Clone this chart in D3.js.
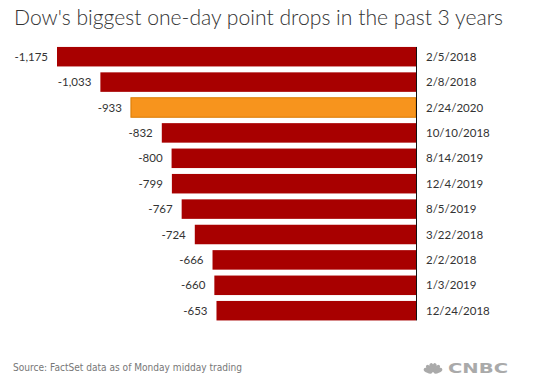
<!DOCTYPE html>
<html>
<head>
<meta charset="utf-8">
<script src="https://cdn.jsdelivr.net/npm/d3@7"></script>
<style>
  body { margin: 0; background: #fff; }
  svg { display: block; }
</style>
</head>
<body>
<svg id="chart" width="546" height="382"></svg>
<script>
const dates = ["2/5/2018","2/8/2018","2/24/2020","10/10/2018","8/14/2019","12/4/2019","8/5/2019","3/22/2018","2/2/2018","1/3/2019","12/24/2018"];
const drops = [-1175,-1033,-933,-832,-800,-799,-767,-724,-666,-660,-653];
const highlightDate = "2/24/2020";
const titleText = "Dow's biggest one-day point drops in the past 3 years";
const sourceText = "Source: FactSet data as of Monday midday trading";

const svg = d3.select("#chart");
const font = "Lato, 'Open Sans', sans-serif";

const x = d3.scaleLinear().domain([-1175, 0]).range([57, 416]);
const y = d3.scaleBand().domain(dates).range([44, 323.4]).paddingInner(0.232).paddingOuter(0.116);

svg.append("text")
  .attr("x", 14).attr("y", 25)
  .attr("font-family", font).attr("font-size", 21.5).attr("font-weight", 300)
  .attr("fill", "#333")
  .attr("textLength", 489).attr("lengthAdjust", "spacingAndGlyphs")
  .text(titleText);

const rows = dates.map((d, i) => ({date: d, value: drops[i]}));

svg.selectAll("rect.bar").data(rows).join("rect")
  .attr("class", "bar")
  .attr("x", d => x(d.value))
  .attr("y", d => y(d.date))
  .attr("width", d => x(0) - x(d.value))
  .attr("height", y.bandwidth())
  .attr("fill", d => d.date === highlightDate ? "#F7941D" : "#A80000")
  .attr("stroke", d => d.date === highlightDate ? "#D97A00" : "none")
  .attr("stroke-width", 1);

svg.selectAll("text.val").data(rows).join("text")
  .attr("class", "val")
  .attr("x", d => x(d.value) - 9)
  .attr("y", d => y(d.date) + y.bandwidth() / 2)
  .attr("dy", "0.35em")
  .attr("text-anchor", "end")
  .attr("font-family", font).attr("font-size", 11.5)
  .attr("fill", "#333")
  .text(d => d3.format(",")(d.value).replace("−", "-"));

svg.selectAll("text.date").data(rows).join("text")
  .attr("class", "date")
  .attr("x", 426)
  .attr("y", d => y(d.date) + y.bandwidth() / 2)
  .attr("dy", "0.35em")
  .attr("font-family", font).attr("font-size", 11.5)
  .attr("fill", "#333")
  .text(d => d.date);

svg.append("line")
  .attr("x1", x(0) + 0.5).attr("x2", x(0) + 0.5)
  .attr("y1", y(dates[0])).attr("y2", y(dates[dates.length - 1]) + y.bandwidth())
  .attr("stroke", "#111").attr("stroke-width", 1);

svg.append("text")
  .attr("x", 13).attr("y", 371)
  .attr("font-family", "Verdana, 'DejaVu Sans', sans-serif").attr("font-size", 10)
  .attr("fill", "#777")
  .attr("textLength", 229).attr("lengthAdjust", "spacingAndGlyphs")
  .text(sourceText);

// CNBC logo (peacock + wordmark)
const logo = svg.append("g").attr("transform", "translate(433,373)").attr("fill", "#aaa");
const angles = [-66, -40, -13, 13, 40, 66];
angles.forEach(a => {
  logo.append("ellipse")
    .attr("cx", 0).attr("cy", -5.5).attr("rx", 2.2).attr("ry", 4.6)
    .attr("transform", `rotate(${a})`);
});
svg.append("text")
  .attr("x", 448).attr("y", 373)
  .attr("font-family", "'DejaVu Sans', Arial, sans-serif").attr("font-size", 14).attr("font-weight", 900)
  .attr("fill", "#aaa")
  .attr("textLength", 60).attr("lengthAdjust", "spacingAndGlyphs")
  .text("CNBC");
</script>
</body>
</html>
